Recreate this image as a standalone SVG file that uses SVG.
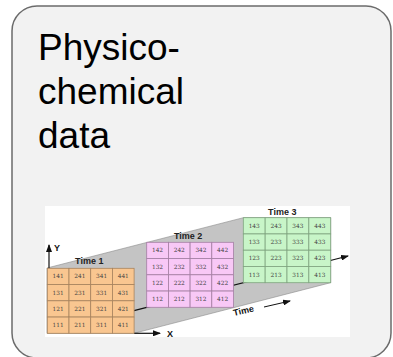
<svg xmlns="http://www.w3.org/2000/svg" width="393" height="357" viewBox="0 0 393 357">
<defs>
<style>
.title{font-family:"Liberation Sans",Arial,sans-serif;font-size:37px;fill:#000}
.tl{font-family:"Liberation Sans",Arial,sans-serif;font-size:9px;font-weight:bold;fill:#222;text-anchor:middle}
.ax{font-family:"Liberation Sans",Arial,sans-serif;font-size:9px;font-weight:bold;fill:#111}
.c{font-family:"DejaVu Serif","Liberation Serif",serif;font-size:5.8px;fill:#444;text-anchor:middle}
.g1 rect{fill:#f9c690;stroke:#a7835e;stroke-width:0.8}
.g2 rect{fill:#f8c8f6;stroke:#a47fa3;stroke-width:0.8}
.g3 rect{fill:#c8f5c8;stroke:#7fa47f;stroke-width:0.8}
</style>
<marker id="ah" markerWidth="8" markerHeight="6" refX="7" refY="3" orient="auto" markerUnits="userSpaceOnUse">
<path d="M0,0 L8,3 L0,6 z" fill="#111"/>
</marker>
</defs>
<g id="card">
<rect x="12" y="6" width="379" height="352" rx="25" ry="25" fill="#f2f2f2" stroke="#6b6b6b" stroke-width="1.5"/>
<text class="title" x="38" y="60">Physico-</text>
<text class="title" x="38" y="104">chemical</text>
<text class="title" x="38" y="148">data</text>
</g>
<g id="figure">
<rect x="45" y="206" width="305" height="131" fill="#ffffff"/>
<polygon points="47,268 243.3,217.7 330.7,217.7 330.7,282.7 134,333.3 47,333.3" fill="#c4c4c4" stroke="#8a8a8a" stroke-width="0.6"/>
<g id="connectors">
<line x1="134" y1="310.7" x2="348" y2="256" stroke="#111" stroke-width="1.2" marker-end="url(#ah)"/>
<line x1="134" y1="333.3" x2="160" y2="333.3" stroke="#111" stroke-width="1.2" marker-end="url(#ah)"/>
<line x1="49" y1="268.3" x2="49" y2="245" stroke="#111" stroke-width="1.2" marker-end="url(#ah)"/>
<line x1="264" y1="307" x2="290" y2="301" stroke="#111" stroke-width="1" marker-end="url(#ah)"/>
</g>
<text class="ax" x="54" y="251">Y</text>
<text class="ax" x="167" y="337">X</text>
<text class="ax" transform="translate(234,316) rotate(-13)">Time</text>

<g id="time1" class="g1" transform="translate(47.3,268.3)">
<rect x="0" y="0" width="21.7" height="16.25"/><rect x="21.7" y="0" width="21.7" height="16.25"/><rect x="43.4" y="0" width="21.7" height="16.25"/><rect x="65.1" y="0" width="21.7" height="16.25"/>
<rect x="0" y="16.25" width="21.7" height="16.25"/><rect x="21.7" y="16.25" width="21.7" height="16.25"/><rect x="43.4" y="16.25" width="21.7" height="16.25"/><rect x="65.1" y="16.25" width="21.7" height="16.25"/>
<rect x="0" y="32.5" width="21.7" height="16.25"/><rect x="21.7" y="32.5" width="21.7" height="16.25"/><rect x="43.4" y="32.5" width="21.7" height="16.25"/><rect x="65.1" y="32.5" width="21.7" height="16.25"/>
<rect x="0" y="48.75" width="21.7" height="16.25"/><rect x="21.7" y="48.75" width="21.7" height="16.25"/><rect x="43.4" y="48.75" width="21.7" height="16.25"/><rect x="65.1" y="48.75" width="21.7" height="16.25"/>
<text class="c" x="10.85" y="10.2">141</text><text class="c" x="32.55" y="10.2">241</text><text class="c" x="54.25" y="10.2">341</text><text class="c" x="75.95" y="10.2">441</text>
<text class="c" x="10.85" y="26.45">131</text><text class="c" x="32.55" y="26.45">231</text><text class="c" x="54.25" y="26.45">331</text><text class="c" x="75.95" y="26.45">431</text>
<text class="c" x="10.85" y="42.7">121</text><text class="c" x="32.55" y="42.7">221</text><text class="c" x="54.25" y="42.7">321</text><text class="c" x="75.95" y="42.7">421</text>
<text class="c" x="10.85" y="58.95">111</text><text class="c" x="32.55" y="58.95">211</text><text class="c" x="54.25" y="58.95">311</text><text class="c" x="75.95" y="58.95">411</text>
<text class="tl" x="42" y="-4">Time 1</text>
</g>

<g id="time2" class="g2" transform="translate(146.7,242.3)">
<rect x="0" y="0" width="21.7" height="16.25"/><rect x="21.7" y="0" width="21.7" height="16.25"/><rect x="43.4" y="0" width="21.7" height="16.25"/><rect x="65.1" y="0" width="21.7" height="16.25"/>
<rect x="0" y="16.25" width="21.7" height="16.25"/><rect x="21.7" y="16.25" width="21.7" height="16.25"/><rect x="43.4" y="16.25" width="21.7" height="16.25"/><rect x="65.1" y="16.25" width="21.7" height="16.25"/>
<rect x="0" y="32.5" width="21.7" height="16.25"/><rect x="21.7" y="32.5" width="21.7" height="16.25"/><rect x="43.4" y="32.5" width="21.7" height="16.25"/><rect x="65.1" y="32.5" width="21.7" height="16.25"/>
<rect x="0" y="48.75" width="21.7" height="16.25"/><rect x="21.7" y="48.75" width="21.7" height="16.25"/><rect x="43.4" y="48.75" width="21.7" height="16.25"/><rect x="65.1" y="48.75" width="21.7" height="16.25"/>
<text class="c" x="10.85" y="10.2">142</text><text class="c" x="32.55" y="10.2">242</text><text class="c" x="54.25" y="10.2">342</text><text class="c" x="75.95" y="10.2">442</text>
<text class="c" x="10.85" y="26.45">132</text><text class="c" x="32.55" y="26.45">232</text><text class="c" x="54.25" y="26.45">332</text><text class="c" x="75.95" y="26.45">432</text>
<text class="c" x="10.85" y="42.7">122</text><text class="c" x="32.55" y="42.7">222</text><text class="c" x="54.25" y="42.7">322</text><text class="c" x="75.95" y="42.7">422</text>
<text class="c" x="10.85" y="58.95">112</text><text class="c" x="32.55" y="58.95">212</text><text class="c" x="54.25" y="58.95">312</text><text class="c" x="75.95" y="58.95">412</text>
<text class="tl" x="41.5" y="-3.5">Time 2</text>
</g>

<g id="time3" class="g3" transform="translate(243.3,217.7)">
<rect x="0" y="0" width="21.85" height="16.25"/><rect x="21.85" y="0" width="21.85" height="16.25"/><rect x="43.7" y="0" width="21.85" height="16.25"/><rect x="65.55" y="0" width="21.85" height="16.25"/>
<rect x="0" y="16.25" width="21.85" height="16.25"/><rect x="21.85" y="16.25" width="21.85" height="16.25"/><rect x="43.7" y="16.25" width="21.85" height="16.25"/><rect x="65.55" y="16.25" width="21.85" height="16.25"/>
<rect x="0" y="32.5" width="21.85" height="16.25"/><rect x="21.85" y="32.5" width="21.85" height="16.25"/><rect x="43.7" y="32.5" width="21.85" height="16.25"/><rect x="65.55" y="32.5" width="21.85" height="16.25"/>
<rect x="0" y="48.75" width="21.85" height="16.25"/><rect x="21.85" y="48.75" width="21.85" height="16.25"/><rect x="43.7" y="48.75" width="21.85" height="16.25"/><rect x="65.55" y="48.75" width="21.85" height="16.25"/>
<text class="c" x="10.9" y="10.2">143</text><text class="c" x="32.8" y="10.2">243</text><text class="c" x="54.6" y="10.2">343</text><text class="c" x="76.5" y="10.2">443</text>
<text class="c" x="10.9" y="26.45">133</text><text class="c" x="32.8" y="26.45">233</text><text class="c" x="54.6" y="26.45">333</text><text class="c" x="76.5" y="26.45">433</text>
<text class="c" x="10.9" y="42.7">123</text><text class="c" x="32.8" y="42.7">223</text><text class="c" x="54.6" y="42.7">323</text><text class="c" x="76.5" y="42.7">423</text>
<text class="c" x="10.9" y="58.95">113</text><text class="c" x="32.8" y="58.95">213</text><text class="c" x="54.6" y="58.95">313</text><text class="c" x="76.5" y="58.95">413</text>
<text class="tl" x="39" y="-3">Time 3</text>
</g>
</g>
</svg>
